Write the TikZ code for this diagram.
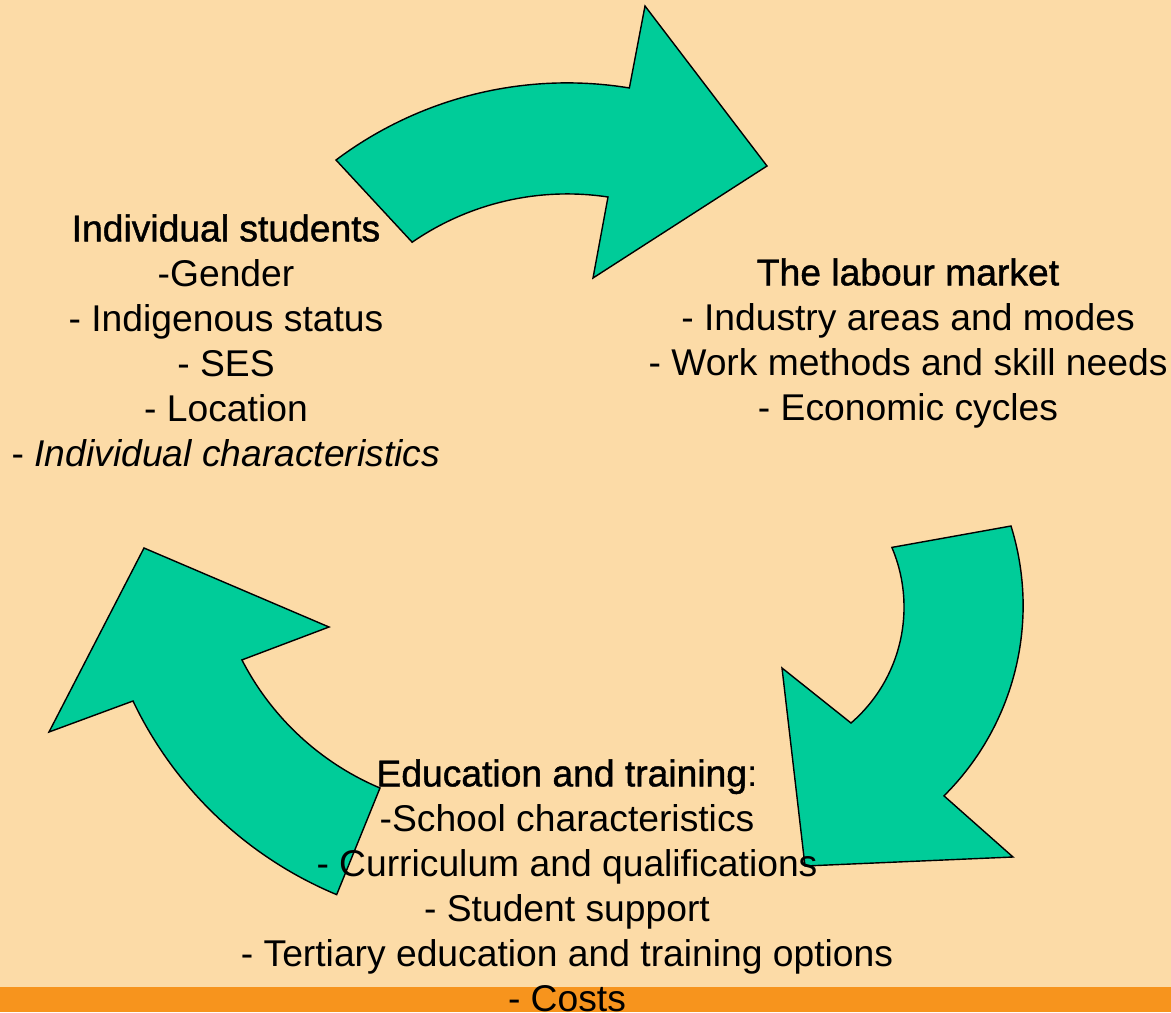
\documentclass[tikz,border=0pt]{standalone}
\usepackage{fontspec}
\setmainfont{Liberation Sans}[BoldFont=Liberation Sans, BoldFeatures={FakeBold=1.2}]
\definecolor{peach}{HTML}{FCDBA7}
\definecolor{barorange}{HTML}{F7941D}
\definecolor{arrowgreen}{HTML}{00CC99}

\begin{document}
\begin{tikzpicture}[x=0.02cm, y=-0.02cm,
    arrowband/.style={fill=arrowgreen, draw=black, line width=0.8pt, line join=miter},
    block/.style={align=center, anchor=north, inner sep=0pt, font=\fontsize{21.2}{25.6}\selectfont}]
            \fill[peach] (0, 0) rectangle (1171, 1012);
            \useasboundingbox (0, 0) rectangle (1171, 1012);
            \fill[barorange] (0, 987) rectangle (1171, 1012);
            
            \draw[arrowband] (336, 160) arc[start angle=-126.9, end angle=-80.7, radius=385]
                -- (645, 6) -- (767, 166) -- (593, 278) -- (608, 197)
                arc[start angle=-81.4, end angle=-124.6, radius=273] -- cycle;
            \draw[arrowband] (1011, 526) arc[start angle=-17.3, end angle=45.2, radius=268]
                -- (1013, 857) -- (805, 866) -- (782, 668) -- (851, 723)
                arc[start angle=49.2, end angle=-23, radius=153] -- cycle;
            \draw[arrowband] (380, 788) arc[start angle=112.9, end angle=152.8, radius=276]
                -- (329, 627) -- (144, 548) -- (49, 732) -- (133, 701)
                arc[start angle=154.5, end angle=112.6, radius=393] -- cycle;
            
            \node[block] (students) at (226, 214) {\textbf{Individual students}\\-Gender\\- Indigenous status\\- SES\\- Location\\- \textit{Individual characteristics}};
            \node[block] (market) at (908, 258) {\textbf{The labour market}\\- Industry areas and modes\\- Work methods and skill needs\\- Economic cycles};
            \node[block] (education) at (567, 759) {\textbf{Education and training}:\\-School characteristics\\- Curriculum and qualifications\\- Student support\\- Tertiary education and training options\\- Costs};
        \end{tikzpicture}
\end{document}
